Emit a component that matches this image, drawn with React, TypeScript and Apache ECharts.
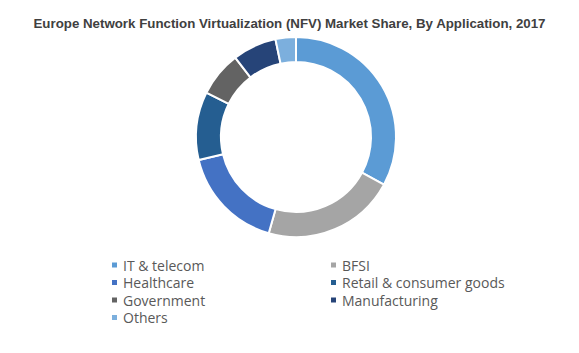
import React, { useEffect, useRef } from "react";
import * as echarts from "echarts";

const categories = [
  "IT & telecom",
  "BFSI",
  "Healthcare",
  "Retail & consumer goods",
  "Government",
  "Manufacturing",
  "Others",
];
const shares = [32.9, 21.5, 16.9, 11.0, 7.3, 7.1, 3.3];
const colors = ["#5B9BD5", "#A5A5A5", "#4472C4", "#255E91", "#636363", "#264478", "#7CAFDD"];
const legendLeft = ["IT & telecom", "Healthcare", "Government", "Others"];
const legendRight = ["BFSI", "Retail & consumer goods", "Manufacturing"];
const titleText = "Europe Network Function Virtualization (NFV) Market Share, By Application, 2017";

export default function App() {
  const ref = useRef<HTMLDivElement>(null);
  useEffect(() => {
    document.body.style.margin = "0";
    const chart = echarts.init(ref.current!, null, { renderer: "svg" });
    const legendText = { color: "#595959", fontSize: 14, fontFamily: "Open Sans", lineHeight: 14 };
    chart.setOption({
      animation: false,
      backgroundColor: "#ffffff",
      title: {
        text: titleText,
        left: "center",
        top: 12,
        textStyle: { fontSize: 13.3, fontWeight: "bold", color: "#404040", fontFamily: "Liberation Sans" },
      },
      legend: [
        {
          orient: "vertical",
          left: 105,
          top: 253,
          itemWidth: 7,
          itemHeight: 7,
          itemGap: 3.5,
          icon: "rect",
          data: legendLeft,
          textStyle: legendText,
          selectedMode: false,
        },
        {
          orient: "vertical",
          left: 324,
          top: 253,
          itemWidth: 7,
          itemHeight: 7,
          itemGap: 3.5,
          icon: "rect",
          data: legendRight,
          textStyle: legendText,
          selectedMode: false,
        },
      ],
      series: [
        {
          type: "pie",
          center: [296, 137],
          radius: [75, 100],
          startAngle: 90,
          clockwise: true,
          label: { show: false },
          labelLine: { show: false },
          itemStyle: { borderColor: "#ffffff", borderWidth: 2 },
          emphasis: { disabled: true },
          data: categories.map((name, i) => ({
            name,
            value: shares[i],
            itemStyle: { color: colors[i] },
          })),
        },
      ],
    });
    return () => chart.dispose();
  }, []);
  return <div ref={ref} style={{ width: 579, height: 353 }} />;
}
